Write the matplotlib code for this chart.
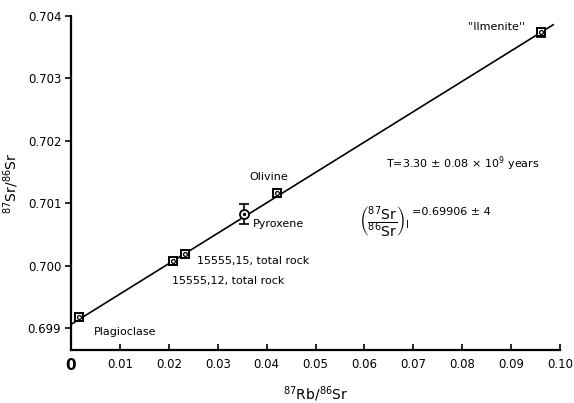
import matplotlib
matplotlib.use("Agg")
import matplotlib.pyplot as plt

# Data
samples = ["Plagioclase", "15555,12, total rock", "15555,15, total rock", "Pyroxene", "Olivine", "''Ilmenite''"]
rb_sr = [0.0016, 0.0209, 0.0233, 0.0354, 0.0421, 0.0961]
sr_sr = [0.69918, 0.70007, 0.70019, 0.70083, 0.70116, 0.70374]
sr_err = [0.0, 0.0, 0.0, 0.00016, 0.0, 0.00007]
square_marker = [True, True, True, False, True, True]

line_x = [0.0, 0.0986]
line_y = [0.69906, 0.70386]

x_ticks = [0, 0.01, 0.02, 0.03, 0.04, 0.05, 0.06, 0.07, 0.08, 0.09, 0.10]
x_ticklabels = ["0", "0.01", "0.02", "0.03", "0.04", "0.05", "0.06", "0.07", "0.08", "0.09", "0.10"]
y_ticks = [0.699, 0.700, 0.701, 0.702, 0.703, 0.704]
y_ticklabels = ["0.699", "0.700", "0.701", "0.702", "0.703", "0.704"]

plt.rcParams['font.family'] = ['DejaVu Sans']
fig = plt.figure(figsize=(5.74, 4.03), dpi=100)
ax = fig.add_axes([0.1237, 0.1315, 0.8520, 0.8288])

ax.plot(line_x, line_y, color='black', lw=1.2, zorder=2)

for x, y, e, sq in zip(rb_sr, sr_sr, sr_err, square_marker):
    if e > 0:
        ax.errorbar([x], [y], yerr=[e], fmt='none', ecolor='black', elinewidth=1.2, capsize=3.5, capthick=1.2, zorder=3)
    if sq:
        ax.plot([x], [y], marker='s', ms=6, mfc='white', mec='black', mew=1.4, ls='none', zorder=4)
        ax.plot([x], [y], marker='o', ms=2.8, mfc='white', mec='black', mew=0.9, ls='none', zorder=5)
    else:
        ax.plot([x], [y], marker='o', ms=6.5, mfc='white', mec='black', mew=1.3, ls='none', zorder=4)
        ax.plot([x], [y], marker='o', ms=1.5, mfc='black', mec='black', ls='none', zorder=5)

ax.set_xlim(0, 0.10)
ax.set_ylim(0.69865, 0.704)
ax.set_xticks(x_ticks)
ax.set_xticklabels(x_ticklabels)
ax.set_yticks(y_ticks)
ax.set_yticklabels(y_ticklabels)
for lbl in ax.get_xticklabels():
    lbl.set_fontsize(8.5)
ax.get_xticklabels()[0].set_fontsize(11)
ax.get_xticklabels()[0].set_fontweight('bold')
for lbl in ax.get_yticklabels():
    lbl.set_fontsize(8.5)

ax.spines['top'].set_visible(False)
ax.spines['right'].set_visible(False)
ax.spines['left'].set_linewidth(1.6)
ax.spines['bottom'].set_linewidth(1.6)
ax.tick_params(axis='x', direction='in', length=4, width=1.2, pad=6)
ax.tick_params(axis='y', direction='out', length=4, width=1.2, pad=3)

ax.set_xlabel(r"$^{87}$Rb/$^{86}$Sr", fontsize=10, labelpad=8)
ax.set_ylabel(r"$^{87}$Sr/$^{86}$Sr", fontsize=10, labelpad=5)

# Labels for points
ax.annotate(samples[0], xy=(rb_sr[0], sr_sr[0]), xytext=(11, -11), textcoords='offset points', fontsize=8, va='center', ha='left')
ax.annotate(samples[1], xy=(rb_sr[1], sr_sr[1]), xytext=(-1, -14), textcoords='offset points', fontsize=8, va='center', ha='left')
ax.annotate(samples[2], xy=(rb_sr[2], sr_sr[2]), xytext=(9, -5), textcoords='offset points', fontsize=8, va='center', ha='left')
ax.annotate(samples[3], xy=(rb_sr[3], sr_sr[3]), xytext=(6, -7), textcoords='offset points', fontsize=8, va='center', ha='left')
ax.annotate(samples[4], xy=(rb_sr[4], sr_sr[4]), xytext=(-6, 12), textcoords='offset points', fontsize=8, va='center', ha='center')
ax.annotate(samples[5], xy=(rb_sr[5], sr_sr[5]), xytext=(-32, 4), textcoords='offset points', fontsize=8, va='center', ha='center')

ax.text(0.0645, 0.70163, r"T=3.30 ± 0.08 × 10$^{9}$ years", fontsize=8, ha='left', va='center')
ax.text(0.0588, 0.70070, r"$\left(\dfrac{^{87}\mathrm{Sr}}{^{86}\mathrm{Sr}}\right)_{\mathrm{I}}$",
        fontsize=10, ha='left', va='center')
ax.text(0.0697, 0.70086, "=0.69906 ± 4", fontsize=8, ha='left', va='center')

fig.savefig("out.png", dpi=100)
